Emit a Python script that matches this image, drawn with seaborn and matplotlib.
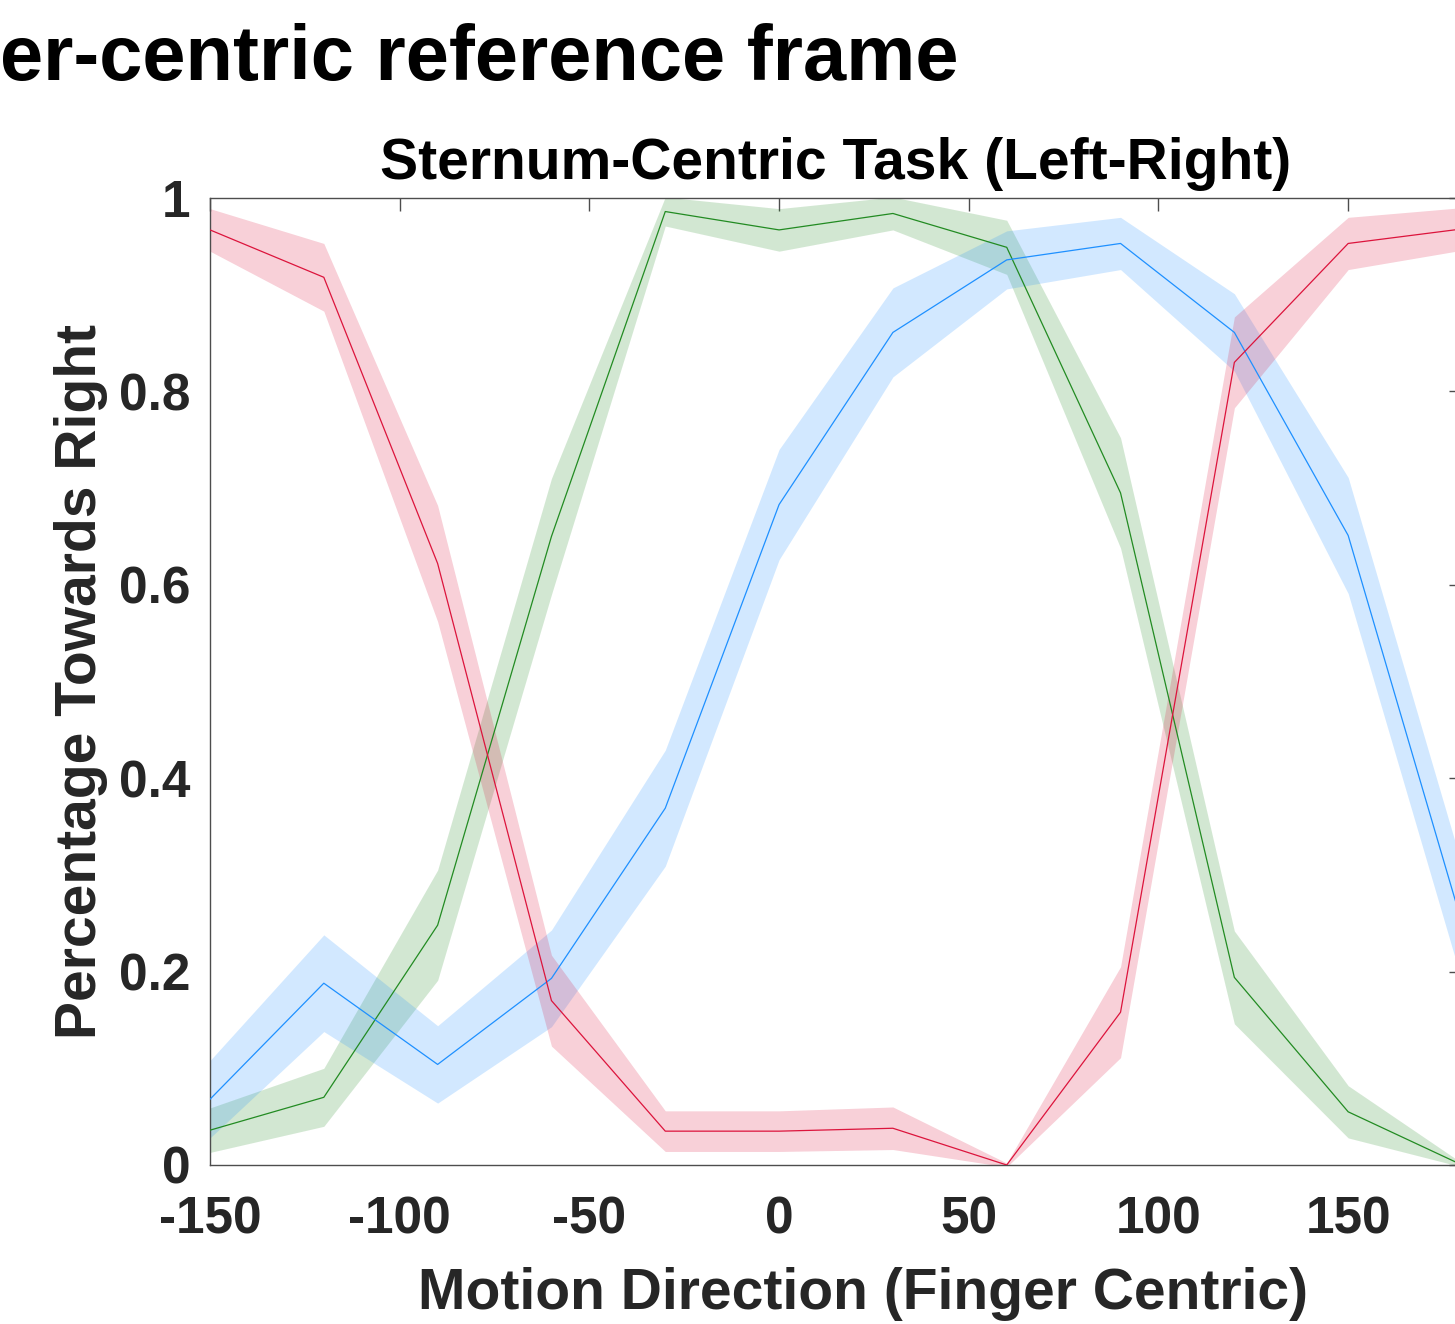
import matplotlib
matplotlib.use("Agg")
import matplotlib.pyplot as plt
import seaborn as sns
import pandas as pd

# ---- data ----
directions = [-150, -120, -90, -60, -30, 0, 30, 60, 90, 120, 150, 180]
red_mean = [0.967, 0.918, 0.622, 0.170, 0.035, 0.035, 0.038, 0.0, 0.158, 0.830, 0.953, 0.968]
red_err = [0.022, 0.035, 0.060, 0.047, 0.021, 0.021, 0.022, 0.002, 0.047, 0.047, 0.027, 0.022]
green_mean = [0.036, 0.070, 0.248, 0.650, 0.986, 0.967, 0.984, 0.949, 0.695, 0.194, 0.055, 0.0]
green_err = [0.023, 0.030, 0.057, 0.060, 0.015, 0.022, 0.017, 0.028, 0.057, 0.048, 0.027, 0.002]
blue_mean = [0.068, 0.188, 0.104, 0.193, 0.369, 0.683, 0.861, 0.936, 0.953, 0.861, 0.651, 0.250]
blue_err = [0.040, 0.050, 0.040, 0.050, 0.060, 0.057, 0.046, 0.030, 0.027, 0.040, 0.060, 0.060]

x_ticks = [-150, -100, -50, 0, 50, 100, 150]
y_ticks = [0, 0.2, 0.4, 0.6, 0.8, 1]
y_ticklabels = ["0", "0.2", "0.4", "0.6", "0.8", "1"]

sns.set_theme(style="white")
plt.rcParams["font.family"] = ["Liberation Sans", "DejaVu Sans"]
plt.rcParams["font.weight"] = "bold"

fig = plt.figure(figsize=(14.55, 13.24), dpi=100)
ax = fig.add_axes([210 / 1455, 159 / 1324, 1252 / 1455, 967 / 1324])

series = [
    ("green", green_mean, green_err, "#228B22"),
    ("blue", blue_mean, blue_err, "#1E90FF"),
    ("red", red_mean, red_err, "#DC143C"),
]

for name, mean, err, col in series:
    lo = [m - e for m, e in zip(mean, err)]
    hi = [m + e for m, e in zip(mean, err)]
    ax.fill_between(directions, lo, hi, color=col, alpha=0.2, linewidth=0, zorder=1)

for name, mean, err, col in series:
    df = pd.DataFrame({"x": directions, "y": mean})
    sns.lineplot(data=df, x="x", y="y", ax=ax, color=col, linewidth=0.9, zorder=3)

ax.set_xlim(-150, 180)
ax.set_ylim(0, 1)
ax.set_xticks(x_ticks)
ax.set_xticklabels([str(t) for t in x_ticks])
ax.set_yticks(y_ticks)
ax.set_yticklabels(y_ticklabels)

for s in ax.spines.values():
    s.set_color("#4d4d4d")
    s.set_linewidth(1.0)

ax.tick_params(axis="both", direction="in", length=9.5, width=1.0, color="#4d4d4d",
               top=True, right=True, labelsize=37, labelcolor="#262626")
ax.tick_params(axis="x", pad=22)
ax.tick_params(axis="y", pad=14)
for lab in ax.get_xticklabels() + ax.get_yticklabels():
    lab.set_fontweight("bold")

ax.set_xlabel("Motion Direction (Finger Centric)", fontsize=41, fontweight="bold",
              color="#262626", labelpad=16)
ax.xaxis.label.set_x(0.5216)
ax.set_ylabel("Percentage Towards Right", fontsize=41, fontweight="bold",
              color="#262626", labelpad=8)
ax.set_title("Sternum-Centric Task (Left-Right)", fontsize=41, fontweight="bold",
             color="black", pad=14)

fig.text(0.0, 1 - 80 / 1324, "er-centric reference frame", fontsize=56,
         fontweight="bold", color="black", ha="left", va="baseline")

fig.savefig("out.png", dpi=100)
